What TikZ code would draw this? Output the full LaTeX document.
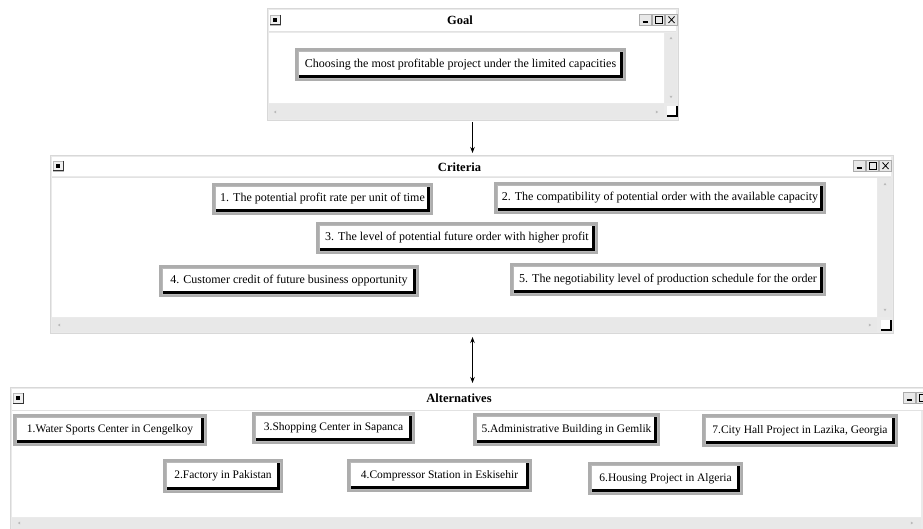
\documentclass[tikz,border=0pt]{standalone}
\usepackage{fontspec}
\setmainfont{Liberation Serif}
\usetikzlibrary{arrows.meta}
\definecolor{winframe}{HTML}{EAEAEA}
\definecolor{windraw}{HTML}{D8D8D8}
\definecolor{scrollc}{HTML}{E8E8E8}
\definecolor{boxframe}{HTML}{ADADAD}
\definecolor{sepc}{HTML}{E2E2E2}
\tikzset{
  win/.style={rectangle, fill=winframe, draw=windraw, line width=0.6pt, inner sep=0pt, outer sep=0pt},
  wintitle/.style={font=\fontsize{12.5}{14}\selectfont\bfseries, inner sep=0pt},
  cbox/.style={rectangle, fill=white, draw=gray!55, line width=0.5pt, inner sep=0pt, outer sep=3pt,
    font=\fontsize{12}{14}\selectfont,
    preaction={draw=boxframe, line width=6pt},
    path picture={\draw[black, line width=3pt]
      ([xshift=-1.5pt]path picture bounding box.north east) --
      ([xshift=-1.5pt,yshift=1.5pt]path picture bounding box.south east) --
      ([yshift=1.5pt]path picture bounding box.south west);}},
  altfont/.style={font=\fontsize{11.5}{13.5}\selectfont},
  arr/.style={line width=0.8pt, shorten <=2pt, shorten >=2pt},
}
\newcommand\cbx[7][]{\node[cbox, #1, minimum width={(#5-#3-6)*1pt}, minimum height={(#6-#4-6)*1pt}] (#2) at ({(#3+#5)/2},{(#4+#6)/2}) {#7};}
\newcommand\winbtns[2]{%
  \foreach \i in {0,1,2} {\draw[fill=gray!18, draw=gray!65, line width=0.6pt] ({#1+13*\i},#2) rectangle ++(12.5,11);}
  \draw[line width=1.6pt] ({#1+3.5},{#2+8}) -- ++(5,0);
  \draw[line width=0.8pt] ({#1+16},{#2+2.5}) rectangle ++(7,6.5);
  \draw[line width=0.8pt] ({#1+29.5},{#2+2.5}) -- ++(6,6.5) ({#1+35.5},{#2+2.5}) -- ++(-6,6.5);
}
\newcommand\winicon[2]{%
  \draw[fill=gray!12, draw=gray!55, line width=0.6pt] (#1,#2) rectangle ++(10,10);
  \draw[gray!40!black, line width=1pt] ({#1+10},#2) -- ++(0,10) -- ++(-10,0);
  \fill ({#1+2.8},{#2+2.8}) rectangle ++(4.5,4.5);
}
\newcommand\uptri[2]{\fill[gray!55] ({#1-1.5},{#2+1.2}) -- ({#1+1.5},{#2+1.2}) -- (#1,{#2-1.2}) -- cycle;}
\newcommand\dntri[2]{\fill[gray!55] ({#1-1.5},{#2-1.2}) -- ({#1+1.5},{#2-1.2}) -- (#1,{#2+1.2}) -- cycle;}
\newcommand\lftri[2]{\fill[gray!55] ({#1+1.2},{#2-1.5}) -- ({#1+1.2},{#2+1.5}) -- ({#1-1.2},#2) -- cycle;}
\newcommand\rttri[2]{\fill[gray!55] ({#1-1.2},{#2-1.5}) -- ({#1-1.2},{#2+1.5}) -- ({#1+1.2},#2) -- cycle;}
\newcommand\grip[2]{%
  \fill[white] (#1,#2) rectangle ++(10,10);
  \draw[line width=1.2pt] (#1,{#2+10}) -- ++(10,0) -- ++(0,-10);
}
\begin{document}
\begin{tikzpicture}[x=1pt, y=-1pt]
\useasboundingbox (0,0) rectangle (923,529);
\fill[white] (0,0) rectangle (923,529);
\clip (0,0) rectangle (923,529);

% ---------- Goal window ----------
\node[win, minimum width=411pt, minimum height=112pt] (goalwin) at (472.5,64) {};
\fill[white] (269,10) rectangle (676,31);
\draw[sepc, line width=0.6pt] (269,31.5) -- (676,31.5);
\fill[white] (269,33) rectangle (664,103);
\fill[scrollc] (665,33) rectangle (677,103);
\fill[scrollc] (269,104) rectangle (664,119);
\uptri{671}{38} \dntri{671}{97}
\lftri{275}{112} \rttri{657}{112}
\grip{667}{106}
\winicon{270}{15}
\winbtns{639}{14}
\node[wintitle] (goaltitle) at (460,20) {Goal};
\cbx{goal}{295}{48}{626}{81}{Choosing the most profitable project under the limited capacities}

% ---------- Criteria window ----------
\node[win, minimum width=843pt, minimum height=178pt] (critwin) at (471.5,244) {};
\fill[white] (52,157) rectangle (891,176.5);
\draw[sepc, line width=0.6pt] (52,177) -- (891,177);
\fill[white] (52,178) rectangle (877,317);
\fill[scrollc] (878,178) rectangle (892,317);
\fill[scrollc] (52,318) rectangle (877,332);
\uptri{885}{184} \dntri{885}{310}
\lftri{59}{325} \rttri{870}{325}
\grip{881}{320}
\winicon{53}{161}
\winbtns{853}{160}
\node[wintitle] (crittitle) at (459.5,167) {Criteria};
\cbx{c1}{212}{183}{433}{215}{1. The potential profit rate per unit of time}
\cbx{c2}{494}{182}{826}{214}{2. The compatibility of potential order with the available capacity}
\cbx{c3}{316}{222}{598}{254}{3. The level of potential future order with higher profit}
\cbx{c4}{159}{265}{419}{297}{4. Customer credit of future business opportunity}
\cbx{c5}{510}{263}{826}{296}{5. The negotiability level of production schedule for the order}

% ---------- Alternatives window ----------
\node[win, minimum width=931pt, minimum height=160pt] (altwin) at (475.5,467) {};
\fill[white] (12,389) rectangle (939,409.5);
\draw[sepc, line width=0.6pt] (12,410) -- (939,410);
\fill[white] (12,411) rectangle (921,517);
\fill[scrollc] (12,518) rectangle (921,529);
\lftri{19}{523} \rttri{912}{523}
\winicon{13}{393}
\winbtns{903}{392}
\node[wintitle] (alttitle) at (459,398.5) {Alternatives};
\cbx[altfont]{a1}{13}{414}{207}{446}{1.Water Sports Center in Cengelkoy}
\cbx[altfont]{a3}{252}{412}{415}{444}{3.Shopping Center in Sapanca}
\cbx[altfont]{a5}{473}{413}{660}{446}{5.Administrative Building in Gemlik}
\cbx[altfont]{a7}{702}{414}{898}{447}{7.City Hall Project in Lazika, Georgia}
\cbx[altfont]{a2}{163}{459}{283}{493}{2.Factory in Pakistan}
\cbx[altfont]{a4}{347}{459}{532}{492}{4.Compressor Station in Eskisehir}
\cbx[altfont]{a6}{588}{462}{743}{495}{6.Housing Project in Algeria}

% ---------- connectors ----------
\draw[arr, -{Stealth[length=6pt,width=4.5pt]}] (goalwin.south) -- (goalwin.south |- critwin.north);
\draw[arr, {Stealth[length=6pt,width=4.5pt]}-{Stealth[length=6pt,width=4.5pt]}, shorten <=4pt, shorten >=4pt]
  (goalwin.south |- critwin.south) -- (goalwin.south |- altwin.north);
\end{tikzpicture}
\end{document}
